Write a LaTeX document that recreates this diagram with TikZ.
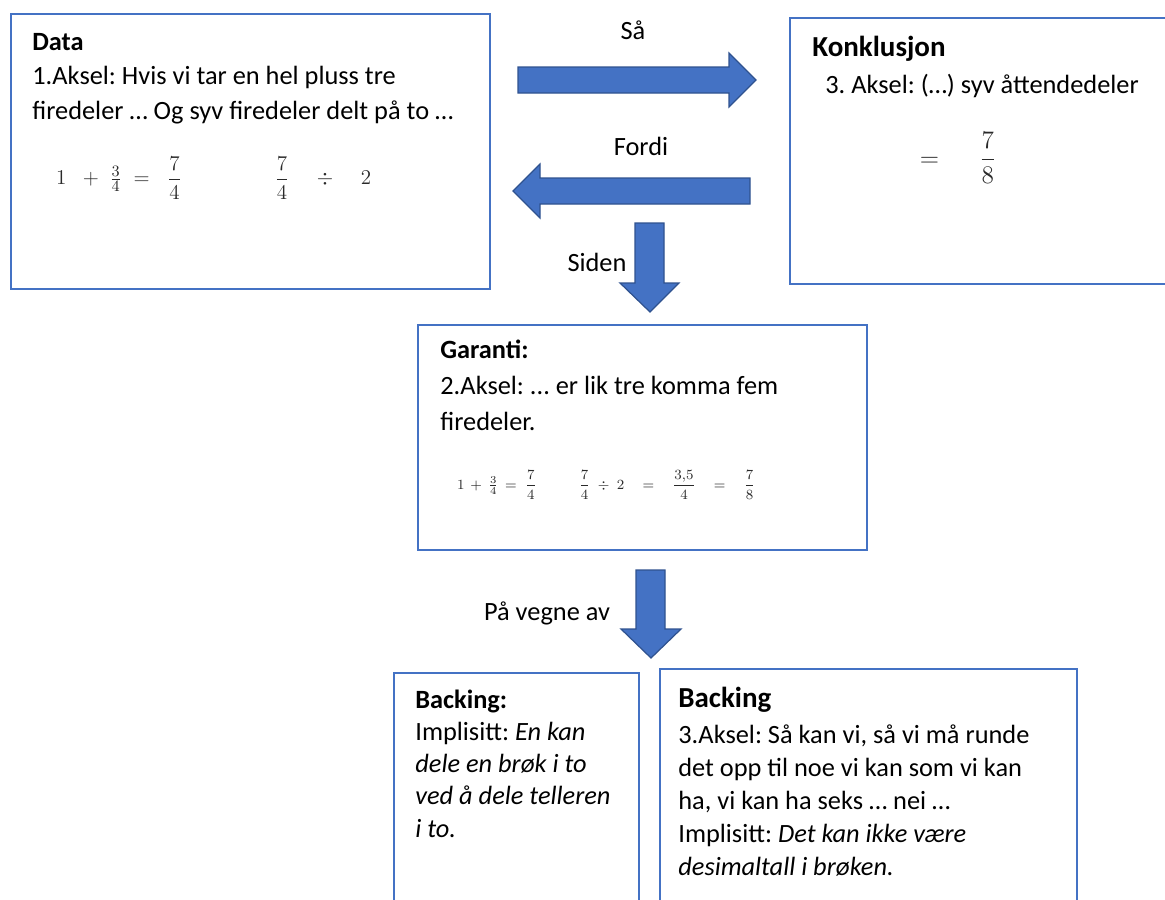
\documentclass[tikz,border=0pt]{standalone}
\usepackage{amssymb,amsmath}
\usepackage{fontspec}
\setmainfont{Carlito}
\usepackage{tikz}
\frenchspacing

\definecolor{boxblue}{HTML}{4472C4}
\definecolor{arrowedge}{HTML}{2F528F}
\definecolor{pen}{HTML}{2A2A2A}

\tikzset{
  box/.style={draw=boxblue, line width=1.1pt, anchor=north west, inner sep=0pt},
  blockarrow/.style={fill=boxblue, draw=arrowedge, line width=0.7pt, line join=miter},
  txt/.style={anchor=base west, align=left, inner sep=0pt, font=\fontsize{15}{19.6}\selectfont},
  lbl/.style={inner sep=0pt, font=\fontsize{15}{18}\selectfont},
  hand/.style={inner sep=0pt, text=pen}
}

\begin{document}
\begin{tikzpicture}[x=0.02cm,y=-0.02cm]

\clip (0,0) rectangle (1165,899);

% boxes
\node[box, minimum width=9.58cm, minimum height=5.5cm] (data) at (10,13) {};
\node[box, minimum width=7.8cm, minimum height=5.32cm] (konk) at (789,17) {};
\node[box, minimum width=8.98cm, minimum height=4.5cm] (garanti) at (417,324) {};
\node[box, minimum width=4.9cm, minimum height=5.2cm] (back1) at (393,672) {};
\node[box, minimum width=8.34cm, minimum height=5.3cm] (back2) at (659,668) {};

% arrows
\draw[blockarrow] (518,67) -- (729,67) -- (729,53) -- (756,80) -- (729,107) -- (729,93) -- (518,93) -- cycle;
\draw[blockarrow] (750,178) -- (540,178) -- (540,164) -- (513,191) -- (540,218) -- (540,204) -- (750,204) -- cycle;
\draw[blockarrow] (635,223) -- (664,223) -- (664,283) -- (679,283) -- (650,312) -- (620,283) -- (635,283) -- cycle;
\draw[blockarrow] (636,570) -- (665,570) -- (665,629) -- (681,629) -- (651,658) -- (621,629) -- (636,629) -- cycle;

\node[lbl] (saa) at (633,30) {Så};
\node[lbl] (fordi) at (641,146) {Fordi};
\node[lbl] (siden) at (597,262) {Siden};
\node[lbl] (vegne) at (547,613) {På vegne av};

% data
\node[txt] (datatext) at (32,119) {\textbf{Data}\\1.Aksel: Hvis vi tar en hel pluss tre\\firedeler … Og syv firedeler delt på to …};
\node[hand, font=\fontsize{13}{15}\selectfont] (datamath1) at (119,178) {$1 \;\;+\; \tfrac{3}{4} \;=\;\; \dfrac{7}{4}$};
\node[hand, font=\fontsize{13}{15}\selectfont] (datamath2) at (323,178) {$\dfrac{7}{4} \quad\div\quad 2$};

% konklusjon
\node[txt, font=\fontsize{16.5}{18}\selectfont] (konktitle) at (812,56) {\textbf{Konklusjon}};
\node[txt] (konktext) at (825,93) {3. Aksel: (…) syv åttendedeler};
\node[hand, font=\fontsize{15}{18}\selectfont] (konkmath) at (958,158) {$= \quad\; \dfrac{7}{8}$};

% garanti
\node[txt, font=\fontsize{15}{20.4}\selectfont] (garantitext) at (440,430) {\textbf{Garanti:}\\2.Aksel: ... er lik tre komma fem\\firedeler.};
\node[hand, font=\fontsize{8}{10}\selectfont] (garantimath1) at (497,485) {$1 \,+\, \tfrac{3}{4} \,=\; \dfrac{7}{4}$};
\node[hand, font=\fontsize{8}{10}\selectfont] (garantimath2) at (667,485) {$\dfrac{7}{4} \;\div\; 2 \quad=\quad \dfrac{3{,}5}{4} \quad=\quad \dfrac{7}{8}$};

% backing
\node[txt, font=\fontsize{15}{18.3}\selectfont] (back1text) at (415,837) {\textbf{Backing:}\\Implisitt: \textit{En kan}\\\textit{dele en brøk i to}\\\textit{ved å dele telleren}\\\textit{i to.}};
\node[txt, font=\fontsize{16.5}{18}\selectfont] (back2title) at (678,707) {\textbf{Backing}};
\node[txt, font=\fontsize{15}{18.7}\selectfont] (back2text) at (678,875) {3.Aksel: Så kan vi, så vi må runde\\det opp til noe vi kan som vi kan\\ha, vi kan ha seks … nei …\\Implisitt: \textit{Det kan ikke være}\\\textit{desimaltall i brøken.}};

\end{tikzpicture}
\end{document}
